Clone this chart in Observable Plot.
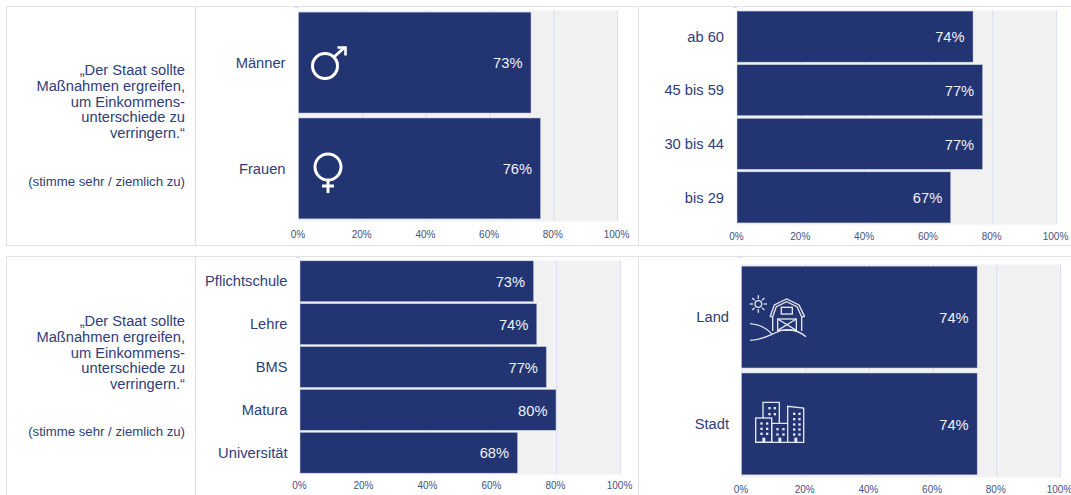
<!DOCTYPE html>
<html lang="de"><head><meta charset="utf-8">
<script src="https://cdn.jsdelivr.net/npm/d3@7"></script>
<script src="https://cdn.jsdelivr.net/npm/@observablehq/plot@0.6"></script>
<style>
html,body{margin:0;padding:0;background:#fff;width:1071px;height:495px;overflow:hidden;font-family:"Liberation Sans",Arial,sans-serif}
#page{position:relative;width:1071px;height:495px;overflow:hidden}
.box{position:absolute;border:1.5px solid #e2e2e2;box-sizing:border-box}
.quote{position:absolute;left:10px;width:175px;text-align:right;color:#2f3d78;font-size:14.7px;line-height:15.8px;white-space:nowrap}
.note{position:absolute;left:10px;width:175px;text-align:right;color:#2f3d78;font-size:13.2px;line-height:15px;white-space:nowrap}
.chart{position:absolute}
.chart svg{display:block;background:transparent;overflow:visible;max-width:none!important}
#icons{position:absolute;left:0;top:0;pointer-events:none}
</style></head><body><div id="page"></div>
<script>
const genderCats = ["Männer","Frauen"];
const genderVals = [73,76];
const ageCats = ["ab 60","45 bis 59","30 bis 44","bis 29"];
const ageVals = [74,77,77,67];
const eduCats = ["Pflichtschule","Lehre","BMS","Matura","Universität"];
const eduVals = [73,74,77,80,68];
const placeCats = ["Land","Stadt"];
const placeVals = [74,74];
const xTicks = [0,20,40,60,80,100];
const quoteLines = ["„Der Staat sollte","Maßnahmen ergreifen,","um Einkommens-","unterschiede zu","verringern.“"];
const noteText = "(stimme sehr / ziemlich zu)";

const navy="#233472", grid="#d8e0f2", labelCol="#2f3d78", tickCol="#44527f", bg="#f1f1f1";
const page=document.getElementById("page");

function box(l,t,w,h){const d=document.createElement("div");d.className="box";
  d.style.cssText=`left:${l}px;top:${t}px;width:${w}px;height:${h}px;`;page.appendChild(d);}
box(6,6,189.5,240);box(194.5,6,444,240);box(638,6,440,240);
box(6,256,189.5,250);box(194.5,256,444,250);box(638,256,440,250);

function quote(top,noteTop){
  const q=document.createElement("div");q.className="quote";q.style.top=top+"px";
  q.innerHTML=quoteLines.join("<br>");page.appendChild(q);
  const n=document.createElement("div");n.className="note";n.style.top=noteTop+"px";
  n.textContent=noteText;page.appendChild(n);
}
quote(63,174);quote(314,424);

function boundaryTicks(cats){
  return (index,scales)=>{
    const g=d3.create("svg:g").attr("stroke",grid).attr("stroke-width",1);
    const bw=scales.y.bandwidth, step=scales.y(cats[1])-scales.y(cats[0]);
    const x0=scales.x(0), off=(step-bw)/2;
    cats.forEach(c=>g.append("line").attr("x1",x0-4).attr("x2",x0).attr("y1",scales.y(c)-off).attr("y2",scales.y(c)-off));
    const last=scales.y(cats[cats.length-1])+bw+off;
    g.append("line").attr("x1",x0-4).attr("x2",x0).attr("y1",last).attr("y2",last);
    return g.node();
  };
}

function chart(cats,vals,{x0,x100,top,bottom,left,svgTop,tickPad,catPad}){
  const marginLeft=x0-left, plotW=x100-x0, marginRight=18, marginTop=top-svgTop, marginBottom=22;
  const width=marginLeft+plotW+marginRight;
  const p=Plot.plot({
    width, height:marginTop+(bottom-top)+marginBottom,
    marginLeft,marginRight,marginTop,marginBottom,
    style:{background:"transparent",fontFamily:"'Liberation Sans',Arial,sans-serif"},
    x:{domain:[0,100],label:null},
    y:{domain:cats,paddingInner:.047,paddingOuter:.02,round:false,label:null},
    marks:[
      Plot.frame({fill:bg,stroke:null}),
      Plot.ruleX(xTicks,{stroke:grid,strokeWidth:1}),
      boundaryTicks(cats),
      Plot.barX(vals,{x:d=>d,y:(d,i)=>cats[i],fill:navy,stroke:"#ccd3e6",strokeWidth:.5}),
      Plot.axisX({ticks:xTicks,tickFormat:d=>d+"%",tickSize:0,tickPadding:tickPad,fontSize:10,color:tickCol,label:null,dx:-1}),
      Plot.axisY({tickSize:0,tickPadding:catPad,fontSize:14.7,color:labelCol,label:null}),
      Plot.text(vals,{x:d=>d,y:(d,i)=>cats[i],text:d=>d+"%",dx:-9,dy:0.5,textAnchor:"end",fill:"#f0f1f6",fontSize:14.7})
    ]
  });
  const w=document.createElement("div");w.className="chart";
  w.style.left=left+"px";w.style.top=svgTop+"px";w.style.width=width+"px";w.appendChild(p);page.appendChild(w);
}
chart(genderCats,genderVals,{x0:298.5,x100:617,top:10,bottom:221,left:196,svgTop:7,tickPad:9,catPad:13.5});
chart(ageCats,ageVals,{x0:737,x100:1056,top:10,bottom:224,left:640,svgTop:7,tickPad:8,catPad:13.5});
chart(eduCats,eduVals,{x0:300,x100:620,top:260,bottom:474,left:196,svgTop:257,tickPad:7.5,catPad:13});
chart(placeCats,placeVals,{x0:741.5,x100:1060,top:264,bottom:477,left:640,svgTop:257,tickPad:8,catPad:13});

// decorative pictograms
let win="";
const cols=(xs,ys)=>{for(const x of xs)for(const y of ys)win+=`<rect x="${x}" y="${y}" width="7" height="7"/>`;};
cols([376,393],[532,548,563]);cols([400,416],[486,504]);cols([424,442],[549,565]);cols([474,490],[503,519,535,550,565]);
for(const x of [382,430,478])win+=`<rect x="${x}" y="578" width="9" height="14"/>`;
let rays="";
for(let a=0;a<360;a+=45){const r=a*Math.PI/180,c=Math.cos(r),s=Math.sin(r);
  rays+=`<line x1="${370+16*c}" y1="${177+16*s}" x2="${370+26*c}" y2="${177+26*s}"/>`;}
const ic=document.createElementNS("http://www.w3.org/2000/svg","svg");
ic.setAttribute("id","icons");ic.setAttribute("width",1071);ic.setAttribute("height",495);
ic.innerHTML=`
<g fill="none" stroke="#fff" stroke-width="3">
  <circle cx="325" cy="66" r="12.5"/><path d="M334 57L345 47"/><path d="M337.5 47.5H345.5V55.5" stroke-width="2.6"/>
  <circle cx="328" cy="167" r="13"/><path d="M328 180V193M322 186H334"/>
</g>
<g transform="translate(635,245) scale(.33333)" fill="none" stroke="#e4e7f1" stroke-width="4">
  ${rays}<circle cx="370" cy="177" r="10"/>
  <path d="M405 215L418 180L455 162L492 180L509 215M405 215H413M500 215H509"/>
  <path d="M413 215L424 185L455 170L486 185L500 215"/>
  <path d="M413 215V258M500 215V258"/>
  <rect x="439" y="187" width="33" height="20"/>
  <rect x="428" y="222" width="56" height="34"/><path d="M428 222L484 256M484 222L428 256"/>
  <path d="M345 236C375 238 395 250 410 266"/>
  <path d="M345 286C385 286 410 265 440 256C470 250 495 260 513 275"/>
  <rect x="362" y="519" width="48" height="73"/>
  <path d="M384 519V472H433V535"/>
  <path d="M410 592V535H458"/>
  <path d="M458 592V484L506 489V592H362"/>
  <g fill="#e4e7f1" stroke="none">${win}</g>
</g>`;
page.appendChild(ic);
</script></body></html>
